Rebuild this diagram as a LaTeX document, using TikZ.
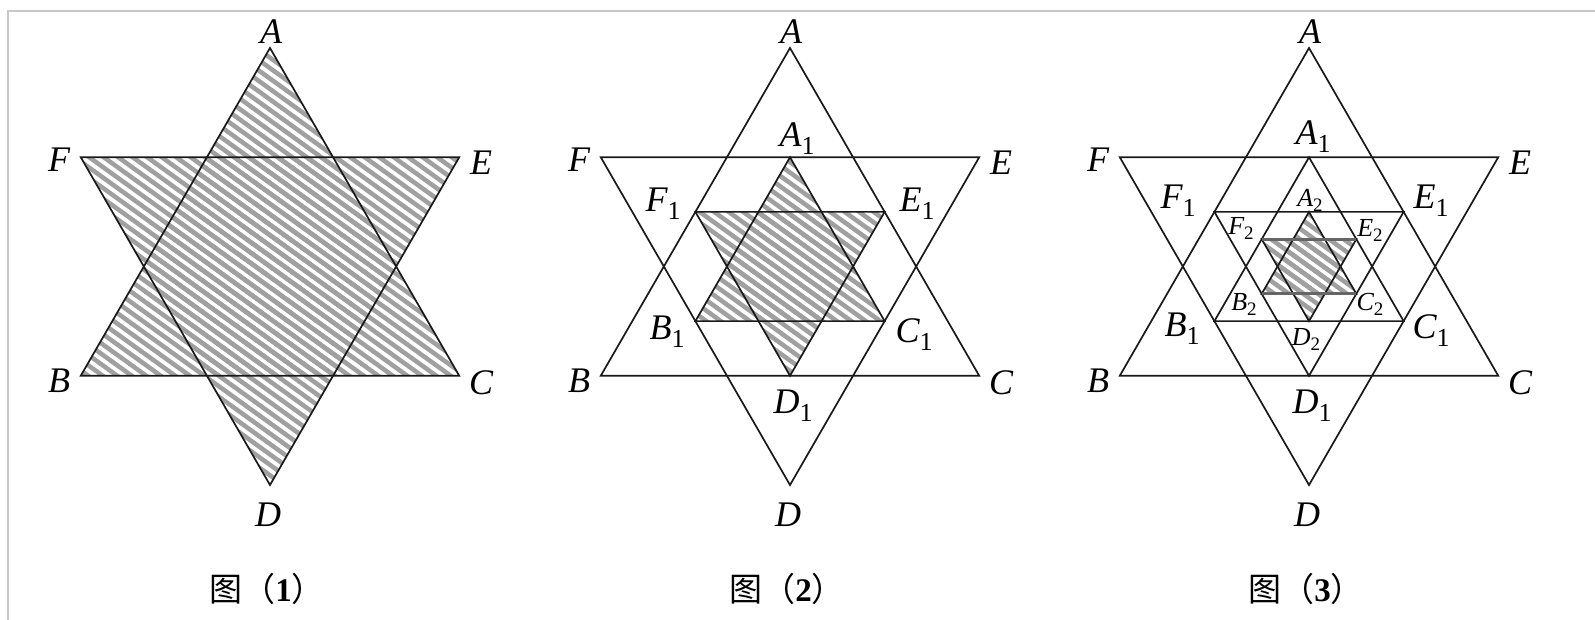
\documentclass[tikz,border=0pt]{standalone}
\usepackage{fontspec}
\setmainfont{Liberation Serif}
\newfontfamily\cjk{Noto Sans CJK SC}
\definecolor{framec}{RGB}{200,200,200}
\definecolor{hatchc}{RGB}{160,160,160}
\tikzset{
  starline/.style={line width=1.7pt, black!90, line join=miter},
  innerline/.style={line width=2.8pt, black!60},
  hatchline/.style={hatchc, line width=4.5pt},
  lab/.style={inner sep=0pt, font=\fontsize{36}{36}\selectfont\itshape},
  labs/.style={inner sep=0pt, font=\fontsize{26}{26}\selectfont\itshape},
  capt/.style={inner sep=0pt, font=\fontsize{33}{33}\selectfont},
}
\newcommand\lsub[1]{\raisebox{-0.22em}{\upshape\fontsize{26}{26}\selectfont #1}}
\newcommand\lsubs[1]{\raisebox{-0.22em}{\upshape\fontsize{19}{19}\selectfont #1}}
% #1 prefix, #2 cx, #3 cy, #4 R
\newcommand\defstar[4]{%
  \coordinate (#1A) at ({#2},{#3-#4});
  \coordinate (#1B) at ({#2-0.8660254*#4},{#3+0.5*#4});
  \coordinate (#1C) at ({#2+0.8660254*#4},{#3+0.5*#4});
  \coordinate (#1D) at ({#2},{#3+#4});
  \coordinate (#1E) at ({#2+0.8660254*#4},{#3-0.5*#4});
  \coordinate (#1F) at ({#2-0.8660254*#4},{#3-0.5*#4});
}
% #1 cx, #2 cy, #3 kmax, #4 extent
\newcommand\hatchlines[4]{%
  \foreach \k in {-#3,...,#3} {%
    \draw[hatchline] ({#1+\k*14.5-#4/0.72},{#2-#4}) -- ({#1+\k*14.5+#4/0.72},{#2+#4});
  }%
}
% #1 prefix, #2 cx, #3 cy, #4 kmax, #5 extent
\newcommand\hatchstar[5]{%
  \begin{scope}
    \clip (#1A) -- (#1B) -- (#1C) -- cycle;
    \hatchlines{#2}{#3}{#4}{#5}
  \end{scope}
  \begin{scope}
    \clip (#1D) -- (#1E) -- (#1F) -- cycle;
    \hatchlines{#2}{#3}{#4}{#5}
  \end{scope}
}
\newcommand\drawstar[1]{%
  \draw[starline] (#1A) -- (#1B) -- (#1C) -- cycle;
  \draw[starline] (#1D) -- (#1E) -- (#1F) -- cycle;
}
\begin{document}
\begin{tikzpicture}[x=1pt,y=-1pt]
\useasboundingbox (0,0) rectangle (1595,620);
\draw[framec, line width=2pt] (8,620) -- (8,11) -- (1595,11);

\def\cy{266.5}
\def\RR{218.5}
\def\Ra{109.25}
\def\Rb{54.625}

% ---------- Figure 1 ----------
\def\cxa{270}
\defstar{a}{\cxa}{\cy}{\RR}
\hatchstar{a}{\cxa}{\cy}{37}{225}
\drawstar{a}
\node[lab] (laA) at (\cxa+1,\cy-235) {A};
\node[lab] (laB) at (\cxa-211,\cy+114) {B};
\node[lab] (laC) at (\cxa+211,\cy+116) {C};
\node[lab] (laD) at (\cxa-2,\cy+248) {D};
\node[lab] (laE) at (\cxa+211,\cy-104) {E};
\node[lab] (laF) at (\cxa-211,\cy-107) {F};
\node[capt] (capa) at (\cxa-3,589) {{\cjk 图（}\textbf{1}{\cjk ）}};

% ---------- Figure 2 ----------
\def\cxb{790}
\defstar{b}{\cxb}{\cy}{\RR}
\defstar{bb}{\cxb}{\cy}{\Ra}
\hatchstar{bb}{\cxb}{\cy}{19}{114}
\drawstar{b}
\drawstar{bb}
\node[lab] (lbA) at (\cxb+1,\cy-235) {A};
\node[lab] (lbB) at (\cxb-211,\cy+114) {B};
\node[lab] (lbC) at (\cxb+211,\cy+116) {C};
\node[lab] (lbD) at (\cxb-2,\cy+248) {D};
\node[lab] (lbE) at (\cxb+211,\cy-104) {E};
\node[lab] (lbF) at (\cxb-211,\cy-107) {F};
\node[lab] (lbA1) at (\cxb+7,\cy-128) {A\lsub{1}};
\node[lab] (lbF1) at (\cxb-127,\cy-63) {F\lsub{1}};
\node[lab] (lbE1) at (\cxb+127,\cy-63) {E\lsub{1}};
\node[lab] (lbB1) at (\cxb-123,\cy+65) {B\lsub{1}};
\node[lab] (lbC1) at (\cxb+124,\cy+68) {C\lsub{1}};
\node[lab] (lbD1) at (\cxb+3,\cy+139) {D\lsub{1}};
\node[capt] (capb) at (\cxb-3,589) {{\cjk 图（}\textbf{2}{\cjk ）}};

% ---------- Figure 3 ----------
\def\cxc{1309}
\defstar{c}{\cxc}{\cy}{\RR}
\defstar{cc}{\cxc}{\cy}{\Ra}
\defstar{ccc}{\cxc}{\cy}{\Rb}
\hatchstar{ccc}{\cxc}{\cy}{10}{58}
\drawstar{c}
\drawstar{cc}
\drawstar{ccc}
\draw[innerline] (cccF) -- (cccE);
\draw[innerline] (cccB) -- (cccC);
\node[lab] (lcA) at (\cxc+1,\cy-235) {A};
\node[lab] (lcB) at (\cxc-211,\cy+114) {B};
\node[lab] (lcC) at (\cxc+211,\cy+116) {C};
\node[lab] (lcD) at (\cxc-2,\cy+248) {D};
\node[lab] (lcE) at (\cxc+211,\cy-104) {E};
\node[lab] (lcF) at (\cxc-211,\cy-107) {F};
\node[lab] (lcA1) at (\cxc+4,\cy-130) {A\lsub{1}};
\node[lab] (lcF1) at (\cxc-131,\cy-66) {F\lsub{1}};
\node[lab] (lcE1) at (\cxc+122,\cy-66) {E\lsub{1}};
\node[lab] (lcB1) at (\cxc-127,\cy+62) {B\lsub{1}};
\node[lab] (lcC1) at (\cxc+122,\cy+64) {C\lsub{1}};
\node[lab] (lcD1) at (\cxc+3,\cy+139) {D\lsub{1}};
\node[labs] (lcA2) at (\cxc+1,\cy-66) {A\lsubs{2}};
\node[labs] (lcF2) at (\cxc-68,\cy-38) {F\lsubs{2}};
\node[labs] (lcE2) at (\cxc+61,\cy-36) {E\lsubs{2}};
\node[labs] (lcB2) at (\cxc-65,\cy+38) {B\lsubs{2}};
\node[labs] (lcC2) at (\cxc+61,\cy+38) {C\lsubs{2}};
\node[labs] (lcD2) at (\cxc-3,\cy+73) {D\lsubs{2}};
\node[capt] (capc) at (\cxc-3,589) {{\cjk 图（}\textbf{3}{\cjk ）}};
\end{tikzpicture}
\end{document}
